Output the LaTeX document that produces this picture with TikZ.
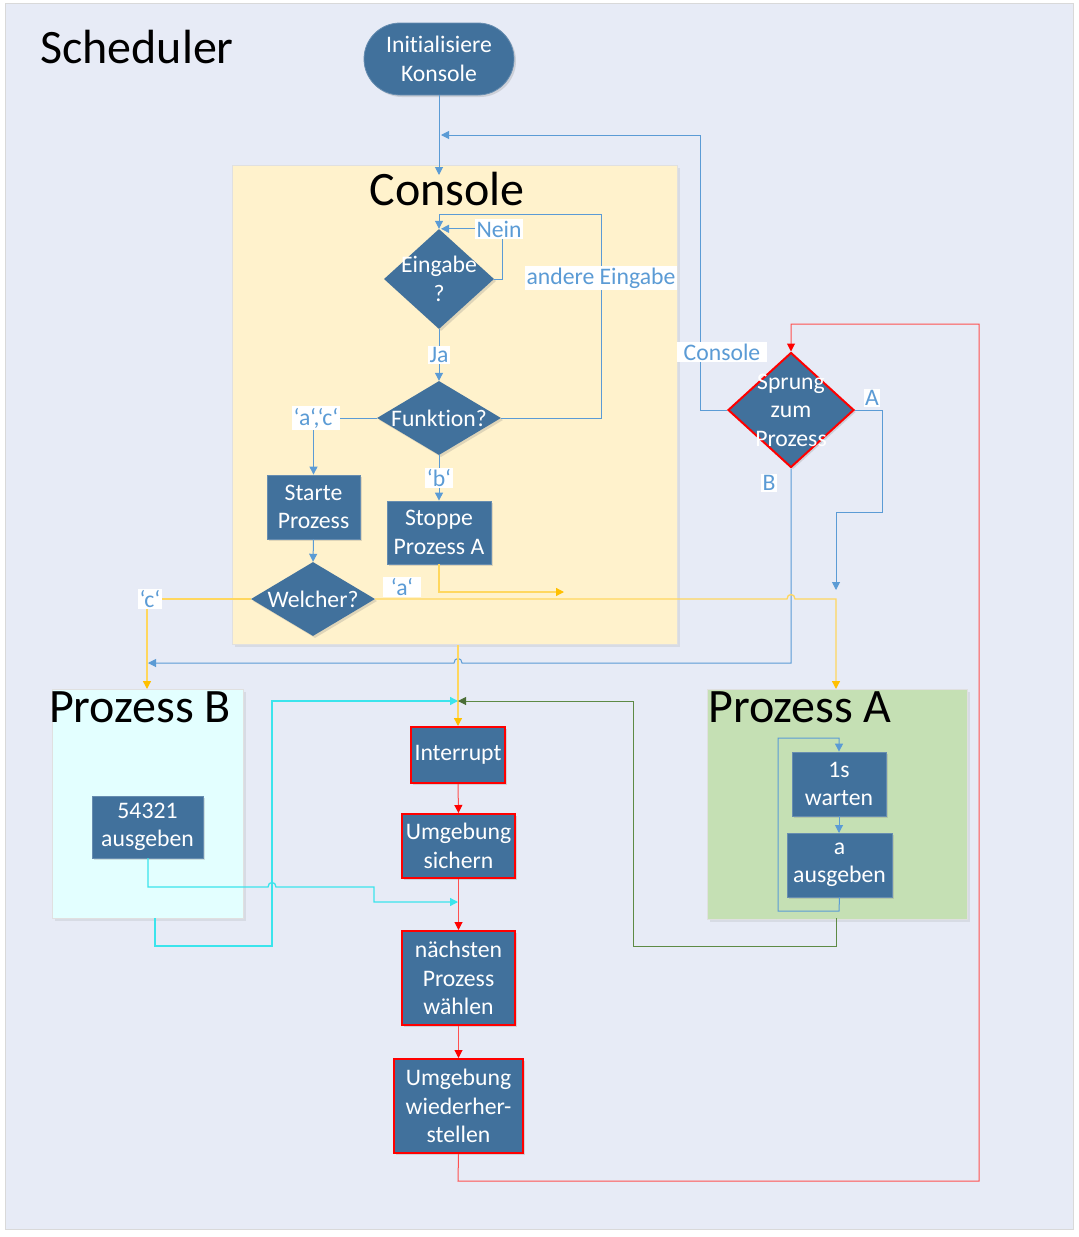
\documentclass[tikz,border=0pt]{standalone}
\usepackage{fontspec}
\setmainfont[Ligatures=NoCommon]{Carlito}
\usetikzlibrary{arrows.meta,shapes.geometric,shadows,calc}
\definecolor{bg}{HTML}{E7EBF6}
\definecolor{nodeblue}{HTML}{41719C}
\definecolor{lblue}{HTML}{5B9BD5}
\definecolor{cyellow}{HTML}{FFF2CC}
\definecolor{ylw}{HTML}{FFC000}
\definecolor{ylwl}{HTML}{FFD75E}
\definecolor{cyn}{HTML}{3BE4EC}
\definecolor{grn}{HTML}{5E8A45}
\definecolor{pbfill}{HTML}{E3FFFF}
\definecolor{pafill}{HTML}{C5E0B4}
\definecolor{redl}{HTML}{FF5050}
\newcommand\txtsz{\fontsize{23.7}{28.5}\selectfont}
\newcommand\ttlsz{\fontsize{48}{56}\selectfont}
\tikzset{
  tip/.style={-{Triangle[width=8pt,length=8pt]}},
  container/.style={rectangle, draw=black!12, line width=1pt, inner sep=0pt,
    drop shadow={opacity=0.15,shadow xshift=2pt,shadow yshift=-2pt}},
  box/.style={rectangle, fill=nodeblue, draw=nodeblue!80!white, line width=0.8pt,
    text=white, font=\txtsz, align=center, inner sep=0pt,
    drop shadow={opacity=0.25,shadow xshift=2pt,shadow yshift=-2pt}},
  redbox/.style={box, draw=red, line width=2pt},
  dia/.style={diamond, fill=nodeblue, inner sep=0pt,
    drop shadow={opacity=0.25,shadow xshift=2pt,shadow yshift=-2pt}},
  wt/.style={text=white, font=\txtsz, align=center, inner sep=0pt},
  lbl/.style={fill=white, text=lblue, font=\txtsz, inner sep=1.5pt},
  ttl/.style={font=\ttlsz, text=black, inner sep=0pt},
  bl/.style={draw=lblue, line width=1pt},
  yl/.style={draw=ylwl, line width=1.3pt},
  cy/.style={draw=cyn, line width=1.3pt},
  gr/.style={draw=grn, line width=1pt},
  rd/.style={draw=redl, line width=1pt},
}
\begin{document}
\begin{tikzpicture}[x=1pt,y=-1pt]
\useasboundingbox (0,0) rectangle (1079,1237);
\fill[white] (0,0) rectangle (1079,1237);
\draw[fill=bg, draw=black!15] (5,3) rectangle (1073,1229);

% containers
\node[container, fill=cyellow, minimum width=445pt, minimum height=479pt, anchor=north west] (cbox) at (232,165) {};
\node[container, fill=pbfill, minimum width=191pt, minimum height=229pt, anchor=north west] (pb) at (52,689) {};
\node[container, fill=pafill, minimum width=260pt, minimum height=230pt, anchor=north west] (pa) at (707,689) {};

% titles
\node[ttl] (tsched) at (137,47) {Scheduler};
\node[ttl] (tcons) at (447,189) {Console};
\node[ttl] (tpb) at (140,707) {Prozess B};
\node[ttl] (tpa) at (800,707) {Prozess A};

% nodes
\node[box, rounded corners=36pt, minimum width=150pt, minimum height=72pt] (init) at (439,59) {Initialisiere\\Konsole};

\node[dia, minimum width=110pt, minimum height=100pt] (eing) at (439,279) {};
\node[wt] (eingt) at (439,279) {Eingabe\\?};
\node[dia, minimum width=124pt, minimum height=74pt] (funk) at (439,418) {};
\node[wt] (funkt) at (439,418) {Funktion?};
\node[dia, minimum width=124pt, minimum height=74pt] (welch) at (313,599) {};
\node[wt] (welcht) at (313,599) {Welcher?};
\node[dia, draw=red, line width=2pt, minimum width=126pt, minimum height=115pt] (sprung) at (791,410) {};
\node[wt] (sprungt) at (791,410) {Sprung\\zum\\Prozess};

\node[box, minimum width=93pt, minimum height=64pt] (starte) at (313.5,507) {Starte\\Prozess};
\node[box, minimum width=104pt, minimum height=63pt] (stoppe) at (439,532.5) {Stoppe\\Prozess A};

\node[redbox, minimum width=94pt, minimum height=56pt] (inter) at (458,755) {Interrupt};
\node[redbox, minimum width=113pt, minimum height=64pt] (sich) at (458.5,846) {Umgebung\\sichern};
\node[redbox, minimum width=113pt, minimum height=94pt] (naechst) at (458.5,978) {nächsten\\Prozess\\wählen};
\node[redbox, minimum width=129pt, minimum height=94pt] (wieder) at (458.5,1106) {Umgebung\\wiederher-\\stellen};

\node[box, minimum width=111pt, minimum height=62pt] (bout) at (147.5,827) {54321\\ausgeben};
\node[box, minimum width=94pt, minimum height=64pt] (wart) at (839,784) {1s\\warten};
\node[box, minimum width=105pt, minimum height=64pt] (aout) at (839.5,865) {a\\ausgeben};

% coordinates
\coordinate (cin) at (439,175);
\coordinate (cjoin) at (441,135);
\coordinate (ya) at (564,592);
\coordinate (bend) at (148,663);
\coordinate (aend) at (836,590);
\coordinate (inpt) at (458,701);
\coordinate (cy1) at (458,902);

% blue connectors
\draw[bl, tip] (init.south) -- (cin);
\draw[bl, tip] (sprung.west) -- (700,410) |- (cjoin);
\draw[bl, tip] (eing.east) -- (502,279) |- ([xshift=2pt]eing.north);
\draw[bl, tip] (funk.east) -| (601,214) -| (eing.north);
\draw[bl, tip] (eing.south) -- (funk.north);
\draw[bl, tip] (funk.west) -| (starte.north);
\draw[bl, tip] (funk.south) -- (stoppe.north);
\draw[bl, tip] (starte.south) -- (welch.north);
\draw[bl, tip] (sprung.east) -- (882,410) |- (836,512) -- (aend);
\draw[bl, tip] (sprung.south) |- (462,663) .. controls (462,657) and (454,657) .. (454,663) -- (bend);
\draw[bl, tip] (aout.south) -- (839,911) -| (778,738) -| (wart.north);
\draw[bl, tip] (wart.south) -- (839,833);

% yellow connectors
\draw[yl, -{Triangle[width=8pt,length=8pt,color=ylw]}] (stoppe.south) |- (ya);
\draw[yl, -{Triangle[width=8pt,length=8pt,color=ylw]}] (welch.east) -- (787,599) .. controls (787,593) and (795,593) .. (795,599) -| (836,689);
\draw[yl, -{Triangle[width=8pt,length=8pt,color=ylw]}] (welch.west) -| (147,689);
\draw[yl, -{Triangle[width=8pt,length=8pt,color=ylw]}] (inter.north |- cbox.south) -- (inter.north);

% cyan connectors
\draw[cy, tip] (148,858) -- (148,887) -- (268,887) .. controls (268,881) and (276,881) .. (276,887) -- (374,887) |- (cy1);
\draw[cy, tip] (155,918) |- (272,946) |- (inpt);

% green connector
\draw[gr, -{Triangle[width=8pt,length=8pt,color=grn!80!black]}] (836,918) |- (633,946) |- (inpt);

% red connectors
\draw[rd, -{Triangle[width=8pt,length=8pt,color=red]}] (inter.south) -- (sich.north);
\draw[rd, -{Triangle[width=8pt,length=8pt,color=red]}] (sich.south) -- (naechst.north);
\draw[rd, -{Triangle[width=8pt,length=8pt,color=red]}] (naechst.south) -- (wieder.north);
\draw[rd, -{Triangle[width=8pt,length=8pt,color=red]}] (wieder.south) -- (458,1181) -| (979,324) -| (sprung.north);

% labels
\node[lbl] (lnein) at (499,229) {Nein};
\node[lbl] (land) at (601,278) {andere Eingabe};
\node[lbl] (lja) at (439,355) {Ja};
\node[lbl] (lac) at (316,418) {‘a‘,‘c‘};
\node[lbl] (lb) at (439,478) {‘b‘};
\node[lbl, inner xsep=8pt] (la) at (402,587) {‘a‘};
\node[lbl] (lc) at (150,599) {‘c‘};
\node[lbl, inner xsep=7pt] (lcons) at (722,352) {Console};
\node[lbl] (lA) at (872,398) {A};
\node[lbl] (lB) at (769,483) {B};
\end{tikzpicture}
\end{document}
